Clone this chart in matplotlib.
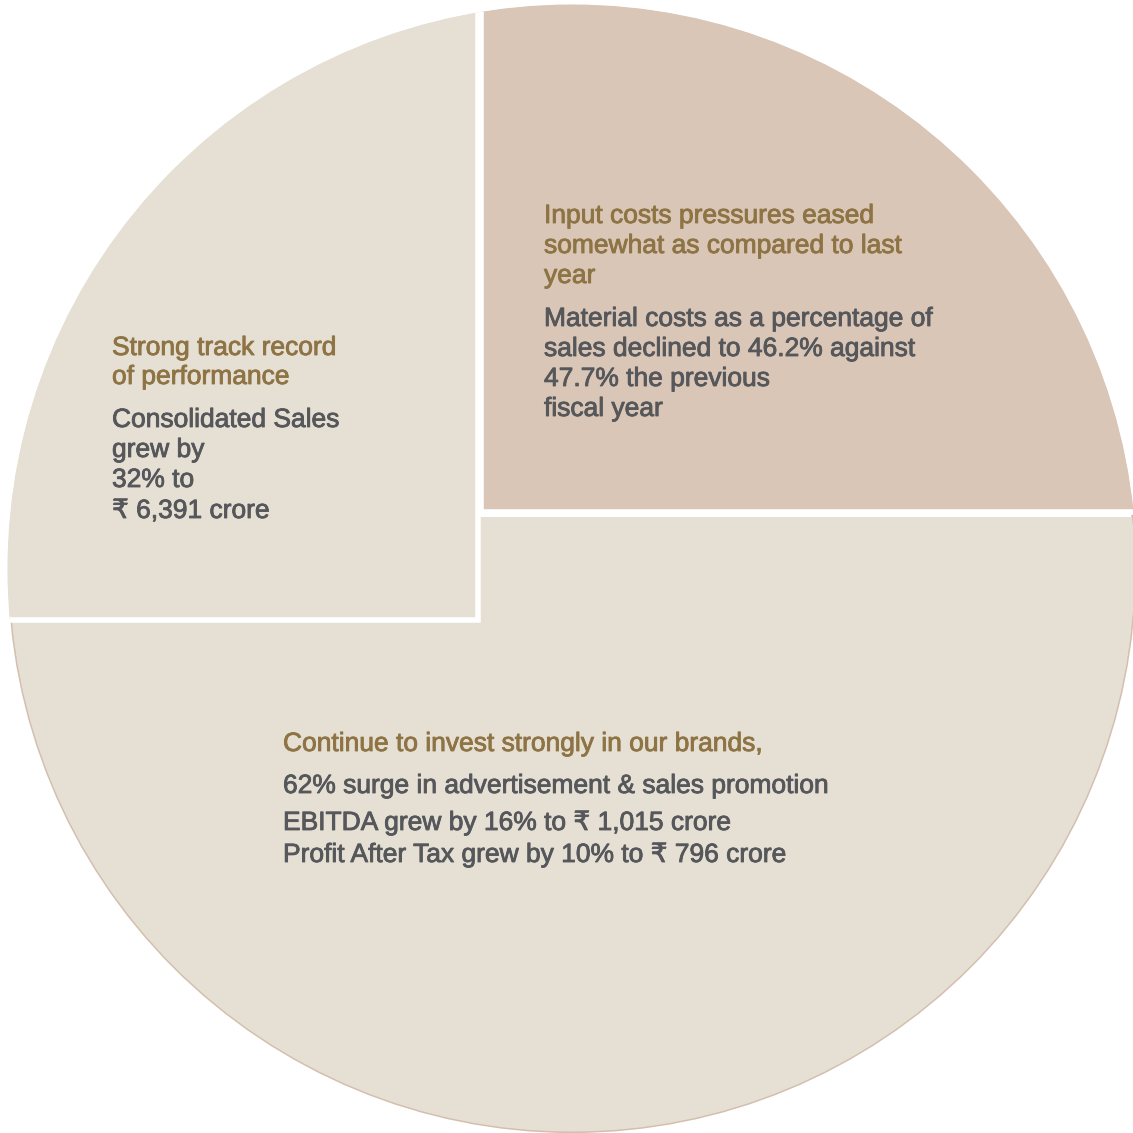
import matplotlib
matplotlib.use('Agg')
import matplotlib.pyplot as plt
import matplotlib.patheffects as pe
from matplotlib.patches import Circle

plt.rcParams['font.family'] = ['Liberation Sans', 'DejaVu Sans']

# three segments of the highlight circle
segments = ['Input costs', 'Track record', 'Brands']
shares = [25, 25, 50]
seg_colors = ['#D9C6B7', '#E6DFD4', '#E6DFD4']

# headings and body copy for each segment
headings = [
    ['Input costs pressures eased', 'somewhat as compared to last', 'year'],
    ['Strong track record', 'of performance'],
    ['Continue to invest strongly in our brands,'],
]
bodies = [
    ['Material costs as a percentage of', 'sales declined to 46.2% against',
     '47.7% the previous', 'fiscal year'],
    ['Consolidated Sales', 'grew by', '32% to', '\u20b9 6,391 crore'],
    ['62% surge in advertisement & sales promotion',
     'EBITDA grew by 16% to \u20b9 1,015 crore',
     'Profit After Tax grew by 10% to \u20b9 796 crore'],
]

head_color = '#8E7444'
body_color = '#55575A'

fig = plt.figure(figsize=(11.33, 11.33), dpi=100)
ax = fig.add_axes([0, 0, 1, 1])

# circle outline (image coords, y down)
cx, cy, r = 572, 569, 563

wedges, _ = ax.pie(shares, colors=seg_colors, startangle=0, counterclock=False,
                   radius=1, frame=True)
ax.set_xlim(0, 1133)
ax.set_ylim(1133, 0)
ax.set_aspect('equal')
ax.axis('off')

ax.add_patch(Circle((cx, cy), r, facecolor='none', edgecolor='#D4BFAE',
                    linewidth=1.5, zorder=1))

# move each wedge to its own apex inside the circle and clip to the circle
apex = [(481, 512), (478, 620), (481, 517)]
clip_r = [r + 1.5, r + 1.5, r - 0.5]
for w, (x0, y0), z, cr in zip(wedges, apex, [3, 4, 2], clip_r):
    w.set_center((x0, y0))
    w.set_radius(1400)
    w.set_clip_on(True)
    w.set_clip_path(Circle((cx, cy), cr, transform=ax.transData))
    w.set_zorder(z)
    w.set_edgecolor('white')
    w.set_linewidth(4)
wedges[2].set_linewidth(0)

fs = 19
# text blocks: (x, first heading line y, line step, gap before body, body line steps)
layout = [
    (544, 216, 30, 43, [30, 30, 30]),
    (112, 348, 29, 43, [30, 30, 31]),
    (283, 744, 30, 42, [37, 32]),
]


def heavy(color):
    return [pe.withStroke(linewidth=0.6, foreground=color)]


for (x, y, step, gap, bsteps), head, body in zip(layout, headings, bodies):
    for i, line in enumerate(head):
        ax.text(x, y + i * step, line, color=head_color, fontsize=fs,
                va='center', ha='left', zorder=10,
                path_effects=heavy(head_color))
    yb = y + (len(head) - 1) * step + gap
    for i, line in enumerate(body):
        ax.text(x, yb, line, color=body_color, fontsize=fs,
                va='center', ha='left', zorder=10,
                path_effects=heavy(body_color))
        if i < len(bsteps):
            yb += bsteps[i]

fig.savefig('out.png', dpi=100, facecolor='white')
